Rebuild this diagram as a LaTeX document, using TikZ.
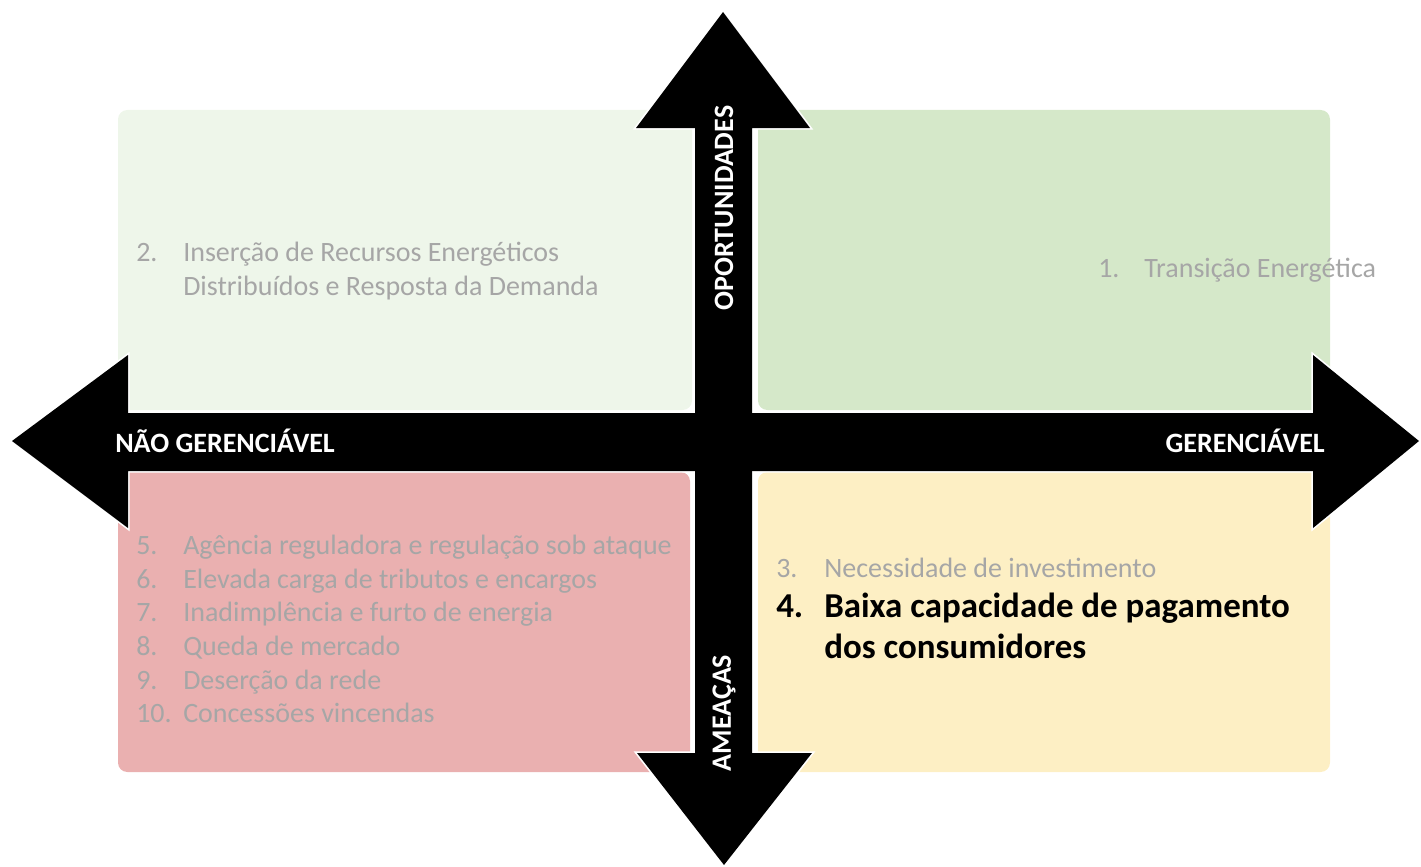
\documentclass[tikz,border=0pt]{standalone}
\usepackage{fontspec}
\setmainfont{Carlito}
\usepackage{xcolor}
\usetikzlibrary{positioning}

\definecolor{oppLight}{HTML}{EEF6EA}
\definecolor{oppGreen}{HTML}{D5E8C9}
\definecolor{thrRed}{HTML}{EAB0B0}
\definecolor{thrYellow}{HTML}{FDEFC4}
\definecolor{itemGray}{HTML}{A6A6A6}

\begin{document}
\begin{tikzpicture}[
    x=0.75pt, y=-0.75pt,
    quad/.style={rounded corners=7pt},
    axis/.style={fill=black},
    axislabel/.style={text=white, font=\fontsize{21}{25}\selectfont\bfseries, inner sep=0pt},
    num/.style={anchor=base west, inner sep=0pt, text=itemGray, font=\fontsize{21}{25}\selectfont},
    item/.style={anchor=base west, inner sep=0pt, text=itemGray, font=\fontsize{21}{25}\selectfont},
    hot/.style={anchor=base west, inner sep=0pt, text=black, font=\fontsize{26.2}{31}\selectfont\bfseries}
]
\useasboundingbox (0,0) rectangle (1421,867);

% Quadrants
\fill[quad, oppLight]  (118,110) rectangle (692,410);
\fill[quad, oppGreen]  (758,110) rectangle (1330,410);
\fill[quad, thrRed]    (118,472) rectangle (690,772);
\fill[quad, thrYellow] (758,472) rectangle (1330,772);

% Axes (white rim first, then black fill)
\def\vaxis{(723,12) -- (810,128) -- (752,128) -- (752,753) -- (812,753) -- (724,865)
  -- (637,753) -- (695,753) -- (695,128) -- (636,128) -- cycle}
\def\haxis{(12,441) -- (128,355) -- (128,413) -- (1313,413) -- (1313,355) -- (1419,441)
  -- (1313,528) -- (1313,471) -- (128,471) -- (128,528) -- cycle}
\draw[white, line width=2.5pt, fill=black] \vaxis;
\draw[white, line width=2.5pt, fill=black] \haxis;
\fill[axis] \vaxis;
\fill[axis] \haxis;

% Axis labels
\node[axislabel, rotate=90] (opp) at (724,208) {OPORTUNIDADES};
\node[axislabel, rotate=90] (thr) at (724,713) {AMEAÇAS};
\node[axislabel, anchor=west] (unmanaged) at (115,441) {NÃO GERENCIÁVEL};
\node[axislabel, anchor=east] (managed) at (1325,441) {GERENCIÁVEL};

% Opportunities
\node[num] (n2) at (136,261) {2.};
\node[item] (t2) at (183,261) {Inserção de Recursos Energéticos};
\node[item] (t2b) at (183,295) {Distribuídos e Resposta da Demanda};
\node[num] (n1) at (1098,277) {1.};
\node[item] (t1) at (1144,277) {Transição Energética};

% Threats, not manageable
\node[num] (n5) at (136,554) {5.};
\node[item] (t5) at (183,554) {Agência reguladora e regulação sob ataque};
\node[num] (n6) at (136,588) {6.};
\node[item] (t6) at (183,588) {Elevada carga de tributos e encargos};
\node[num] (n7) at (136,621) {7.};
\node[item] (t7) at (183,621) {Inadimplência e furto de energia};
\node[num] (n8) at (136,655) {8.};
\node[item] (t8) at (183,655) {Queda de mercado};
\node[num] (n9) at (136,689) {9.};
\node[item] (t9) at (183,689) {Deserção da rede};
\node[num] (n10) at (136,722) {10.};
\node[item] (t10) at (183,722) {Concessões vincendas};

% Threats, manageable
\node[num] (n3) at (776,577) {3.};
\node[item] (t3) at (824,577) {Necessidade de investimento};
\node[hot] (n4) at (776,617) {4.};
\node[hot] (t4) at (824,617) {Baixa capacidade de pagamento};
\node[hot] (t4b) at (824,658) {dos consumidores};

\end{tikzpicture}
\end{document}
